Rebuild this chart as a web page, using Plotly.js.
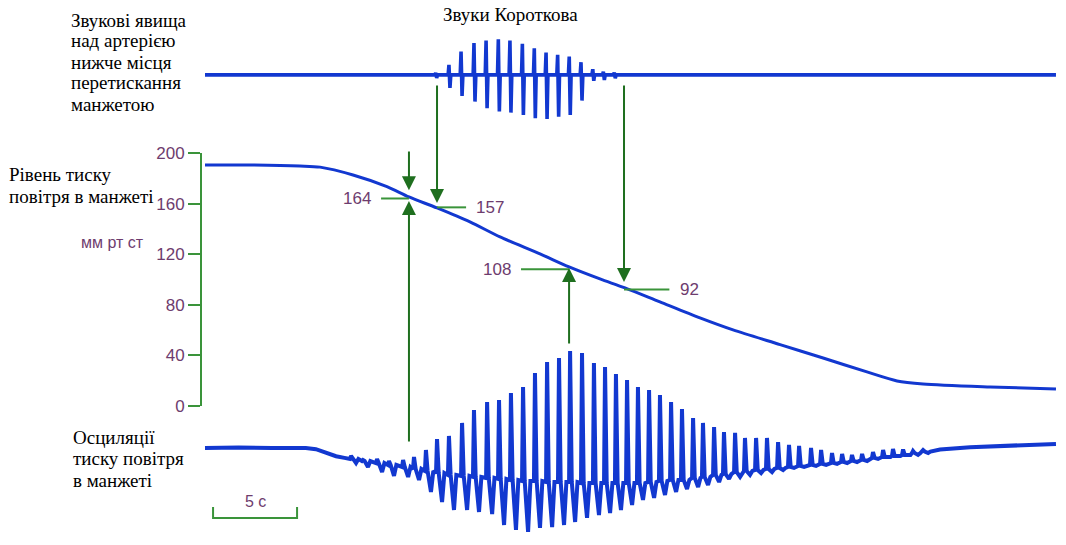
<!DOCTYPE html>
<html>
<head>
<meta charset="utf-8">
<script src="https://cdn.plot.ly/plotly-3.0.1.min.js"></script>
<style>html,body{margin:0;padding:0;background:#fff;}#chart{width:1066px;height:545px;}</style>
</head>
<body>
<div id="chart"></div>
<script>
// ---------------- DATA ----------------
// Cuff pressure (time, s / pressure, mm Hg)
const pressureTime = [0, 2.68, 5.65, 6.85, 8.81, 10.83, 12.14, 13.81, 15.77, 17.56, 19.94, 21.67, 23.51, 25.0, 27.08, 29.46, 31.43, 34.23, 36.79, 39.4, 41.19, 42.74, 46.73, 50.65];
const pressureMmHg = [190.5, 190.5, 189.7, 188.8, 182.6, 173.4, 165.2, 156.5, 145.5, 133.6, 120.2, 109.9, 100.4, 93.3, 82.2, 69.6, 60.1, 48.5, 37.9, 26.9, 19.8, 17.4, 15.0, 13.4];

// Korotkoff sounds (time, s / upper & lower deflection, a.u.)
const soundTime   = [13.73, 14.52, 15.24, 16.01, 16.73, 17.46, 18.15, 18.89, 19.60, 20.30, 20.99, 21.68, 22.38, 23.08, 23.71, 24.36];
const soundTop    = [1.6, 7.9, 18.4, 25.1, 27.1, 28.2, 27.1, 24.5, 21.1, 17.6, 15.8, 14.5, 10.0, 4.5, 2.6, 1.8];
const soundBottom = [-2.4, -10.3, -16.6, -21.1, -26.3, -29.0, -29.8, -31.6, -34.2, -34.8, -33.0, -31.6, -20.3, -4.7, -4.0, -2.6];
const soundStart = 0, soundEnd = 50.65;

// Cuff pressure oscillations (time of each beat, s / peak, trough, local baseline, a.u.)
const beatTime = [8.69, 9.40, 10.24, 10.95, 11.79, 12.44, 13.15, 13.81, 14.52, 15.30, 16.01, 16.79, 17.50, 18.21, 18.93, 19.64, 20.36, 21.07, 21.73, 22.44, 23.15, 23.81, 24.46, 25.12, 25.77, 26.43, 27.08, 27.74, 28.39, 29.05, 29.64, 30.30, 30.89, 31.55, 32.14, 32.80, 33.45, 34.11, 34.76, 35.36, 36.07, 36.67, 37.32, 37.92, 38.51, 39.11, 39.76, 40.36, 40.95, 41.55, 42.14, 42.74];
const beatPeak = [-6.3, -9.5, -8.7, -10.3, -9.5, -7.1, -1.6, 7.1, 9.5, 19.8, 30.0, 36.4, 37.9, 43.5, 48.2, 59.3, 68.0, 71.1, 76.7, 75.1, 67.2, 64.0, 58.5, 53.8, 48.2, 45.8, 41.9, 36.4, 30.8, 23.7, 19.8, 16.6, 12.6, 11.9, 7.9, 7.9, 7.9, 4.7, 2.4, 1.6, 0, -1.6, -4.0, -4.7, -5.5, -4.7, -3.2, -1.6, -0.8, -1.2, -2.4, -1.6];
const beatTrough = [-11.9, -15.0, -19.0, -22.1, -22.9, -25.3, -34.8, -42.7, -49.0, -49.0, -50.6, -52.2, -60.9, -64.8, -66.4, -63.2, -62.5, -60.9, -58.5, -55.3, -53.0, -51.4, -49.0, -45.1, -41.1, -39.5, -37.2, -34.8, -32.4, -30.8, -29.2, -26.9, -24.5, -22.9, -21.3, -19.8, -19.0, -17.4, -15.8, -15.0, -14.2, -13.4, -12.6, -11.9, -11.1, -10.3, -8.7, -7.1, -6.3, -5.5, -5.5, -4.0];
const beatBase = [-8.7, -10.3, -11.9, -13.4, -15.0, -16.6, -18.2, -19.8, -21.3, -22.1, -22.9, -23.7, -24.5, -25.3, -26.1, -26.1, -26.9, -26.9, -26.9, -27.7, -27.7, -27.7, -27.7, -27.7, -27.7, -26.9, -26.1, -25.3, -25.3, -23.7, -22.9, -21.3, -20.6, -19.0, -18.2, -17.4, -16.6, -15.8, -15.0, -14.2, -13.4, -12.6, -11.9, -11.1, -10.3, -9.5, -7.9, -7.1, -6.3, -5.5, -4.0, -2.8];
const oscLeadTime  = [0, 2, 4, 6.0, 6.6, 7.2, 7.8, 8.3];
const oscLeadValue = [0, 0.4, 0, 0, -1, -4, -6.5, -7.8];
const oscTailTime  = [43.75, 45.54, 47.32, 49.1, 50.65];
const oscTailValue = [-1.2, 0.6, 1.6, 2.4, 3.2];

// Marked pressures
const markerValue = [164, 157, 108, 92];
const markerTime  = [12.14, 13.81, 21.67, 24.94];
const markerLabel = ['164', '157', '108', '92'];

// Pressure axis ticks
const pressureTicks = [0, 40, 80, 120, 160, 200];
const scaleBarSeconds = 5;
const scaleBarLabel = '5 с';

// Text blocks (one entry per line)
const topLeftLines = ['Звукові явища', 'над артерією', 'нижче місця', 'перетискання', 'манжетою'];
const midLeftLines = ['Рівень тиску', 'повітря в манжеті'];
const bottomLeftLines = ['Осциляції', 'тиску повітря', 'в манжеті'];
const soundTitle = 'Звуки Короткова';
const unitLabel = 'мм рт ст';

// ---------------- STYLE / LAYOUT ----------------
const BLUE = '#1238d0';
const GREEN = '#3a943a';
const DGREEN = '#1f6f1f';
const PURPLE = '#6e3c6e';
const SERIF = 'Liberation Serif';
const SANS = 'Liberation Sans';

const SOUND_BASE = 261.7;   // vertical offset of sound trace
const OSC_BASE = -33.2;     // vertical offset of oscillation trace

// build sound trace polyline
const sx = [soundStart], sy = [SOUND_BASE];
soundTime.forEach((t, i) => {
  sx.push(t - 0.05, t, t + 0.06, t + 0.11);
  sy.push(SOUND_BASE, SOUND_BASE + soundTop[i], SOUND_BASE + soundBottom[i], SOUND_BASE);
});
sx.push(soundEnd); sy.push(SOUND_BASE);

// build oscillation polyline
const ox = [], oy = [];
oscLeadTime.forEach((t, i) => { ox.push(t); oy.push(OSC_BASE + oscLeadValue[i]); });
beatTime.forEach((t, i) => {
  ox.push(t - 0.06, t, t + 0.1, t + 0.3, t + 0.44);
  oy.push(OSC_BASE + beatBase[i], OSC_BASE + beatPeak[i], OSC_BASE + beatBase[i], OSC_BASE + beatTrough[i], OSC_BASE + beatBase[i]);
});
oscTailTime.forEach((t, i) => { ox.push(t); oy.push(OSC_BASE + oscTailValue[i]); });

const traces = [
  {x: pressureTime, y: pressureMmHg, mode: 'lines', line: {color: BLUE, width: 3, shape: 'spline', smoothing: 0.8}, hoverinfo: 'skip'},
  {x: sx, y: sy, mode: 'lines', line: {color: BLUE, width: 3.6}, hoverinfo: 'skip'},
  {x: ox, y: oy, mode: 'lines', line: {color: BLUE, width: 4}, hoverinfo: 'skip'}
];

const shapes = [
  {type: 'line', xref: 'paper', yref: 'y', x0: 0, x1: 0, y0: 0, y1: 200, line: {color: GREEN, width: 2}}
];
const annotations = [];

const sides = [-1, 1, -1, 1];
const lineLen = [1.66, 1.73, 2.86, 2.7];
markerValue.forEach((v, i) => {
  const t = markerTime[i], s = sides[i];
  shapes.push({type: 'line', xref: 'x', yref: 'y', x0: t, x1: t + s * lineLen[i], y0: v, y1: v, line: {color: GREEN, width: 2}});
  annotations.push({x: t + s * (lineLen[i] + 0.5), y: v, xref: 'x', yref: 'y', text: markerLabel[i], showarrow: false,
    xanchor: s < 0 ? 'right' : 'left', yanchor: 'middle', font: {family: SANS, size: 17, color: PURPLE}});
});

function arrow(t, tipV, tailV) {
  annotations.push({x: t, y: tipV, ax: t, ay: tailV, xref: 'x', yref: 'y', axref: 'x', ayref: 'y', text: '',
    showarrow: true, arrowhead: 2, arrowsize: 1.4, arrowwidth: 2, arrowcolor: DGREEN, standoff: 0});
}
arrow(markerTime[0], markerValue[0] + 6.5, 202.4);
arrow(markerTime[0], markerValue[0] - 2, -29.2);
arrow(markerTime[1], markerValue[1] + 3.5, 254.5);
arrow(markerTime[2], markerValue[2] + 1, 48.2);
arrow(markerTime[3], markerValue[3] + 6, 254.5);

// scale bar
const sb0 = 0.48;
shapes.push({type: 'path', xref: 'x', yref: 'y',
  path: `M ${sb0} -79.8 L ${sb0} -88.5 L ${sb0 + scaleBarSeconds} -88.5 L ${sb0 + scaleBarSeconds} -79.8`,
  line: {color: GREEN, width: 2}});
annotations.push({x: sb0 + scaleBarSeconds / 2, y: -75.5, xref: 'x', yref: 'y', text: scaleBarLabel, showarrow: false,
  font: {family: SANS, size: 16, color: PURPLE}, yanchor: 'middle'});

// text labels (paper coords from pixel positions)
const W = 1066, H = 545, L = 201, R = 6;
const px = p => (p - L) / (W - L - R);
const py = p => (H - p) / H;
function label(text, x, y, xa, font) {
  annotations.push({xref: 'paper', yref: 'paper', x: px(x), y: py(y), text, showarrow: false,
    xanchor: xa, yanchor: 'middle', font});
}
const serifFont = {family: SERIF, size: 19, color: '#000'};
topLeftLines.forEach((s, i) => label(s, 69, 20 + i * 21, 'left', serifFont));
label(soundTitle, 510, 15, 'center', serifFont);
midLeftLines.forEach((s, i) => label(s, 7, 175 + i * 21, 'left', serifFont));
label(unitLabel, 79, 243, 'left', {family: SANS, size: 16, color: PURPLE});
bottomLeftLines.forEach((s, i) => label(s, 71, 437 + i * 21.5, 'left', serifFont));

const layout = {
  width: 1066, height: 545,
  margin: {l: 201, r: 6, t: 0, b: 0, pad: 0},
  paper_bgcolor: '#fff', plot_bgcolor: '#fff',
  showlegend: false,
  xaxis: {range: [-0.238, 50.89], visible: false, fixedrange: true},
  yaxis: {range: [-109.9, 320.9], tickvals: pressureTicks, ticktext: pressureTicks.map(String),
    showgrid: false, zeroline: false, showline: false, ticks: 'outside', ticklen: 12, tickwidth: 2, tickcolor: GREEN,
    tickfont: {family: SANS, size: 17, color: PURPLE}, fixedrange: true},
  shapes, annotations
};

Plotly.newPlot('chart', traces, layout, {staticPlot: true, displayModeBar: false});
</script>
</body>
</html>
